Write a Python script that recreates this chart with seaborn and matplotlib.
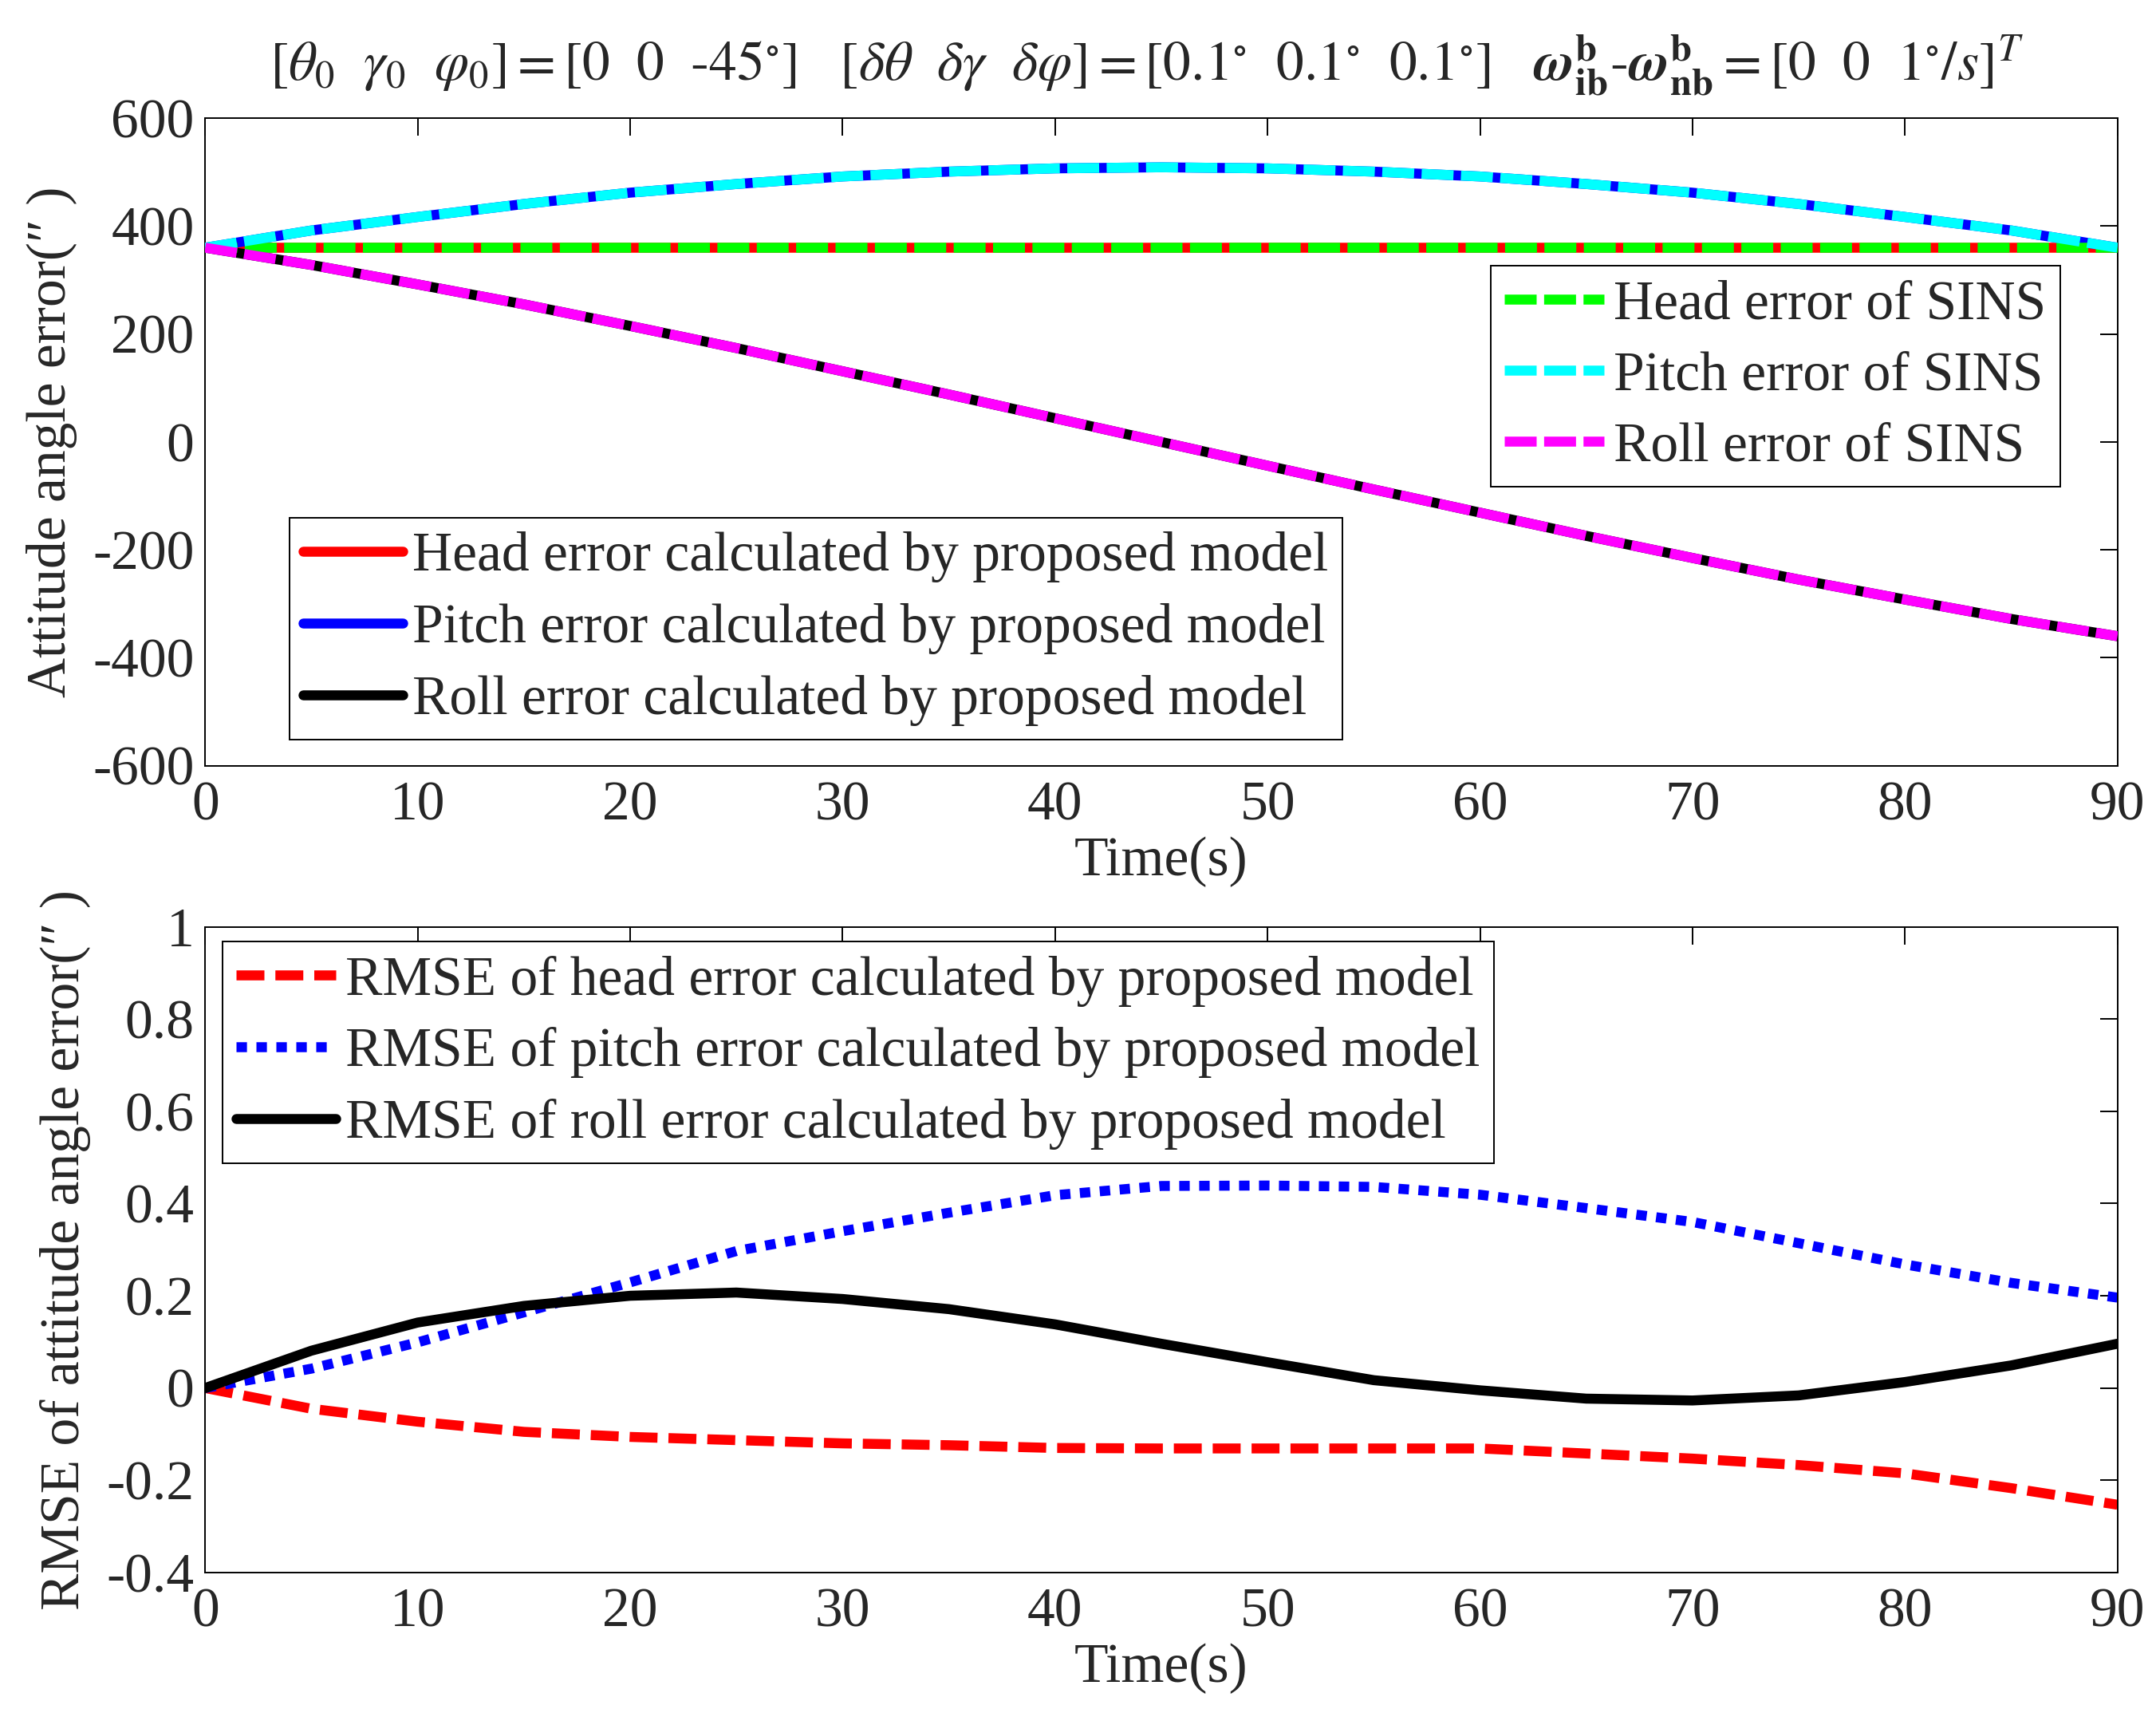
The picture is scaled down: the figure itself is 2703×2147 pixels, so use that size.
import numpy as np
import pandas as pd
import matplotlib
matplotlib.use("Agg")
import matplotlib.pyplot as plt
import seaborn as sns

# ---- data ----
t_top = [0, 5, 10, 15, 20, 25, 30, 35, 40, 45, 50, 55, 60, 65, 70, 75, 80, 85, 90]
head_sins = [360, 360, 360, 360, 360, 360, 360, 360, 360, 360, 360, 360, 360, 360, 360, 360, 360, 360, 360]
pitch_sins = [360, 392, 417, 441, 462, 478, 492, 501, 507, 509, 507, 501, 492, 478, 462, 441, 417, 392, 360]
roll_sins = [360, 328, 292, 255, 215, 174, 131, 88, 44, 0, -44, -88, -131, -174, -215, -255, -292, -328, -360]
head_model = [360, 360, 360, 360, 360, 360, 360, 360, 360, 360, 360, 360, 360, 360, 360, 360, 360, 360, 360]
pitch_model = [360, 392, 417, 441, 462, 478, 492, 501, 507, 509, 507, 501, 492, 478, 462, 441, 417, 392, 360]
roll_model = [360, 328, 292, 255, 215, 174, 131, 88, 44, 0, -44, -88, -131, -174, -215, -255, -292, -328, -360]

t_rmse = [0, 5, 10, 15, 20, 25, 30, 35, 40, 45, 50, 55, 60, 65, 70, 75, 80, 85, 90]
rmse_head = [0, -0.045, -0.073, -0.095, -0.106, -0.113, -0.12, -0.124, -0.13, -0.131, -0.131,
             -0.131, -0.131, -0.142, -0.153, -0.167, -0.185, -0.217, -0.253]
rmse_pitch = [0, 0.042, 0.099, 0.164, 0.229, 0.297, 0.34, 0.38, 0.418, 0.438, 0.439,
              0.436, 0.419, 0.39, 0.36, 0.314, 0.268, 0.228, 0.196]
rmse_roll = [0, 0.081, 0.142, 0.178, 0.2, 0.207, 0.193, 0.171, 0.138, 0.096, 0.056,
             0.017, -0.005, -0.023, -0.027, -0.016, 0.013, 0.049, 0.096]

model_labels = ['Head error calculated by proposed model',
                'Pitch error calculated by proposed model',
                'Roll error calculated by proposed model']
sins_labels = ['Head error of SINS', 'Pitch error of SINS', 'Roll error of SINS']
rmse_labels = ['RMSE of head error calculated by proposed model',
               'RMSE of pitch error calculated by proposed model',
               'RMSE of roll error calculated by proposed model']

# ---- style ----
sns.set_theme(style='white')
plt.rcParams['font.family'] = ['Liberation Serif', 'DejaVu Serif']
plt.rcParams['mathtext.fontset'] = 'stix'
plt.rcParams['xtick.direction'] = 'in'
plt.rcParams['ytick.direction'] = 'in'
plt.rcParams['axes.edgecolor'] = 'black'
plt.rcParams['axes.linewidth'] = 1.4
FS = 50

fig = plt.figure(figsize=(27.03, 21.47), dpi=100)
ax1 = fig.add_axes([0.0952, 0.553, 0.8869, 0.378])
ax2 = fig.add_axes([0.0952, 0.082, 0.8869, 0.377])

LW = 9
leg_kw = dict(borderaxespad=0, fontsize=FS, fancybox=False, framealpha=1, edgecolor='black',
              handlelength=1.8, handletextpad=0.17, labelspacing=0.37, borderpad=0.25)

top = pd.DataFrame({'t': t_top, 'hm': head_model, 'pm': pitch_model, 'rm': roll_model,
                    'hs': head_sins, 'ps': pitch_sins, 'rs': roll_sins})

# model results (solid) underneath
for col, c in zip(['hm', 'pm', 'rm'], ['#ff0000', '#0000ff', '#000000']):
    sns.lineplot(data=top, x='t', y=col, ax=ax1, color=c, lw=LW, legend=False, zorder=2)
# SINS (dashed) on top
for col, c in zip(['hs', 'ps', 'rs'], ['#00ff00', '#00ffff', '#ff00ff']):
    sns.lineplot(data=top, x='t', y=col, ax=ax1, color=c, lw=LW, legend=False, zorder=3,
                 linestyle=(0, (3.2, 0.75)))

lines1 = ax1.get_lines()
leg_sins = ax1.legend(lines1[3:6], sins_labels, loc='upper right',
                      bbox_to_anchor=(0.970, 0.772), **leg_kw)
leg_sins.get_frame().set_linewidth(1.4)
ax1.add_artist(leg_sins)
leg_model = ax1.legend(lines1[0:3], model_labels, loc='lower left',
                       bbox_to_anchor=(0.044, 0.040), **leg_kw)
leg_model.get_frame().set_linewidth(1.4)

ax1.set_xlim(0, 90)
ax1.set_ylim(-600, 600)
ax1.set_xticks(np.arange(0, 91, 10))
ax1.set_yticks(np.arange(-600, 601, 200))
ax1.set_yticklabels([str(v) for v in np.arange(-600, 601, 200)])
ax1.set_xlabel('Time(s)', fontsize=FS, labelpad=4)
ax1.set_ylabel('Attitude angle error(\u2033 )', fontsize=FS, labelpad=14)

bot = pd.DataFrame({'t': t_rmse, 'h': rmse_head, 'p': rmse_pitch, 'r': rmse_roll})
sns.lineplot(data=bot, x='t', y='h', ax=ax2, color='#ff0000', lw=LW, legend=False,
             linestyle=(0, (2.8, 1.1)))
sns.lineplot(data=bot, x='t', y='p', ax=ax2, color='#0000ff', lw=LW, legend=False,
             linestyle=(0, (1.05, 0.95)))
sns.lineplot(data=bot, x='t', y='r', ax=ax2, color='#000000', lw=LW, legend=False)

leg_rmse = ax2.legend(ax2.get_lines(), rmse_labels, loc='upper left',
                      bbox_to_anchor=(0.009, 0.977), **leg_kw)
leg_rmse.get_frame().set_linewidth(1.4)

ax2.set_xlim(0, 90)
ax2.set_ylim(-0.4, 1)
ax2.set_xticks(np.arange(0, 91, 10))
ax2.set_yticks([-0.4, -0.2, 0, 0.2, 0.4, 0.6, 0.8, 1])
ax2.set_yticklabels(['-0.4', '-0.2', '0', '0.2', '0.4', '0.6', '0.8', '1'])
ax2.set_xlabel('Time(s)', fontsize=FS, labelpad=4)
ax2.set_ylabel('RMSE of attitude angle error(\u2033 )', fontsize=FS, labelpad=14)

for ax in (ax1, ax2):
    ax.tick_params(axis='both', which='both', labelsize=FS, length=16, width=1.4,
                   top=True, right=True, color='black')
    ax.tick_params(axis='x', pad=14)
    ax.tick_params(axis='y', pad=10)
    for s in ax.spines.values():
        s.set_visible(True)
        s.set_color('black')

title = (r'$\left[\theta_0\ \ \gamma_0\ \ \varphi_0\right]=\left[0\ \ 0\ \ \text{-}45^{\circ}\right]$'
         r'$\quad\left[\delta\theta\ \ \delta\gamma\ \ \delta\varphi\right]'
         r'=\left[0.1^{\circ}\ \ 0.1^{\circ}\ \ 0.1^{\circ}\right]$'
         r'$\quad\boldsymbol{\omega}^{\mathbf{b}}_{\mathbf{ib}}\text{-}\boldsymbol{\omega}^{\mathbf{b}}_{\mathbf{nb}}'
         r'=\left[0\ \ 0\ \ 1^{\circ}/s\right]^{T}$')
fig.text(0.532, 0.962, title, fontsize=50, ha='center', va='center')

fig.savefig('out.png', dpi=100)
